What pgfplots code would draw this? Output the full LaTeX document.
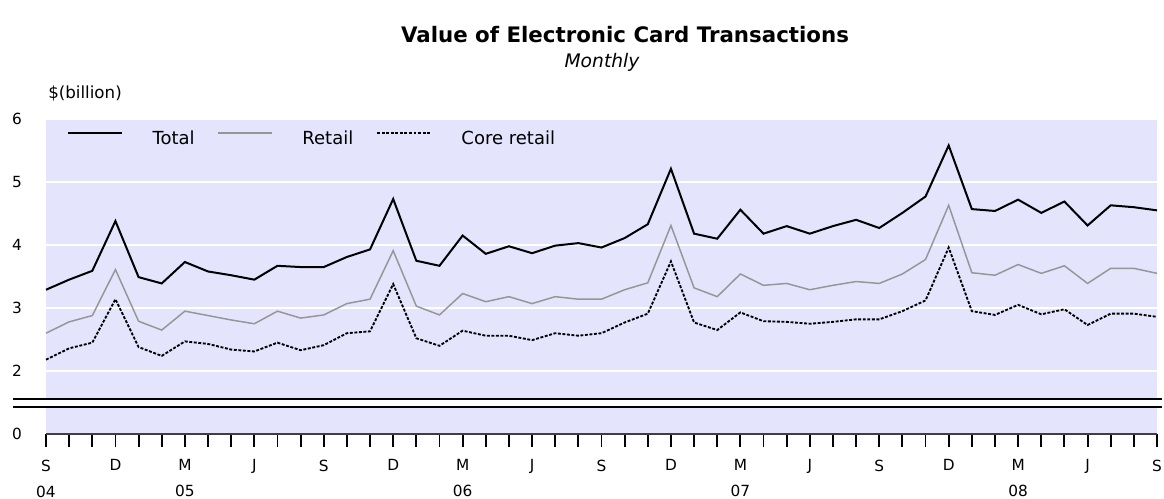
\documentclass[border=0pt]{standalone}
\usepackage{fontspec}
\setmainfont{DejaVu Sans}[ItalicFont={DejaVu Sans Oblique},BoldFont={DejaVu Sans Bold}]
\usepackage{pgfplots}
\usepackage{pgfplotstable}
\pgfplotsset{compat=1.18}
\definecolor{bg}{RGB}{228,228,252}
\definecolor{retailgray}{RGB}{150,150,150}
\pgfplotstableread{
i total retail core
0 3.29 2.60 2.18
1 3.45 2.78 2.36
2 3.59 2.88 2.45
3 4.38 3.61 3.14
4 3.49 2.79 2.38
5 3.39 2.65 2.24
6 3.73 2.95 2.47
7 3.58 2.88 2.43
8 3.52 2.81 2.34
9 3.45 2.75 2.31
10 3.67 2.95 2.45
11 3.65 2.84 2.33
12 3.65 2.89 2.41
13 3.81 3.07 2.60
14 3.93 3.14 2.63
15 4.73 3.91 3.38
16 3.75 3.03 2.52
17 3.67 2.89 2.40
18 4.15 3.23 2.64
19 3.86 3.10 2.56
20 3.98 3.18 2.56
21 3.87 3.07 2.49
22 3.99 3.18 2.60
23 4.03 3.14 2.56
24 3.96 3.14 2.60
25 4.11 3.29 2.77
26 4.33 3.40 2.91
27 5.21 4.31 3.74
28 4.18 3.32 2.77
29 4.10 3.18 2.65
30 4.56 3.54 2.93
31 4.18 3.36 2.79
32 4.30 3.39 2.78
33 4.18 3.29 2.75
34 4.30 3.36 2.78
35 4.40 3.42 2.82
36 4.27 3.39 2.82
37 4.51 3.54 2.95
38 4.77 3.77 3.12
39 5.58 4.63 3.96
40 4.57 3.56 2.95
41 4.54 3.52 2.89
42 4.72 3.69 3.05
43 4.51 3.55 2.90
44 4.69 3.67 2.98
45 4.31 3.39 2.73
46 4.63 3.63 2.91
47 4.60 3.63 2.91
48 4.55 3.55 2.86
}\datatable
\begin{document}
\begin{tikzpicture}
\path[use as bounding box] (0pt,0pt) rectangle (873pt,-374.25pt);
\begin{axis}[
  at={(34.5pt,-325.5pt)}, anchor=south west,
  scale only axis, width=833.25pt, height=236.25pt,
  xmin=0, xmax=48, ymin=1, ymax=6,
  clip=false,
  axis background/.style={fill=bg},
  axis x line*=bottom, axis y line*=left,
  y axis line style={draw=none},
  x axis line style={draw=black!75, line width=1.5pt},
  tick align=outside, major tick length=9.75pt,
  xtick={0,...,48},
  xticklabels={{S\\04},,,D,,,{M\\05},,,J,,,S,,,D,,,{M\\06},,,J,,,S,,,D,,,{M\\07},,,J,,,S,,,D,,,{M\\08},,,J,,,S},
  xticklabel style={align=center, font=\fontsize{11.5}{19.5}\selectfont, yshift=-6pt},
  xtick style={black, line width=1.4pt},
  ytick={1,2,3,4,5,6}, yticklabels={0,2,3,4,5,6},
  yticklabel style={font=\fontsize{11.5}{14}\selectfont, anchor=center, xshift=-12pt},
  ytick style={draw=none},
  /pgf/number format/assume math mode=true,
  ymajorgrids, grid style={white, line width=1.5pt},
  legend columns=3,
  legend cell align=left,
  legend style={draw=none, fill=none, at={(rel axis cs:0,1)}, anchor=north west,
    xshift=15.75pt, yshift=-9pt, inner sep=0pt,
    nodes={inner sep=0pt},
    font=\fontsize{13.5}{16}\selectfont,
    /tikz/every odd column/.append style={column sep=22.5pt},
    /tikz/every even column/.append style={column sep=17.25pt}},
  legend image code/.code={\draw[#1] (0pt,4.5pt) -- (40pt,4.5pt);},
]
\addplot[black, line width=1.5pt] table[x=i, y=total] {\datatable};
\addlegendentry{Total}
\addplot[retailgray, line width=1.1pt] table[x=i, y=retail] {\datatable};
\addlegendentry{Retail}
\addplot[black, line width=1.4pt, dash pattern=on 2.2pt off 1.2pt] table[x=i, y=core] {\datatable};
\addlegendentry{Core retail}
\fill[white] (axis cs:-1.43,1.426) rectangle (axis cs:48.2,1.551);
\draw[black, line width=1.5pt] (axis cs:-1.43,1.551) -- (axis cs:48.2,1.551);
\draw[black, line width=1.5pt] (axis cs:-1.43,1.426) -- (axis cs:48.2,1.426);
\end{axis}
\begin{scope}[x=0.75pt,y=-0.75pt]
\node[anchor=base, inner sep=0pt, font=\fontsize{16}{19}\selectfont\bfseries] at (625,43) {Value of Electronic Card Transactions};
\node[anchor=base, inner sep=0pt, font=\fontsize{14}{17}\selectfont\itshape] at (602,68) {Monthly};
\node[anchor=base west, inner sep=0pt, font=\fontsize{12.5}{15}\selectfont] at (48,99) {\$(billion)};
\end{scope}
\end{tikzpicture}
\end{document}
